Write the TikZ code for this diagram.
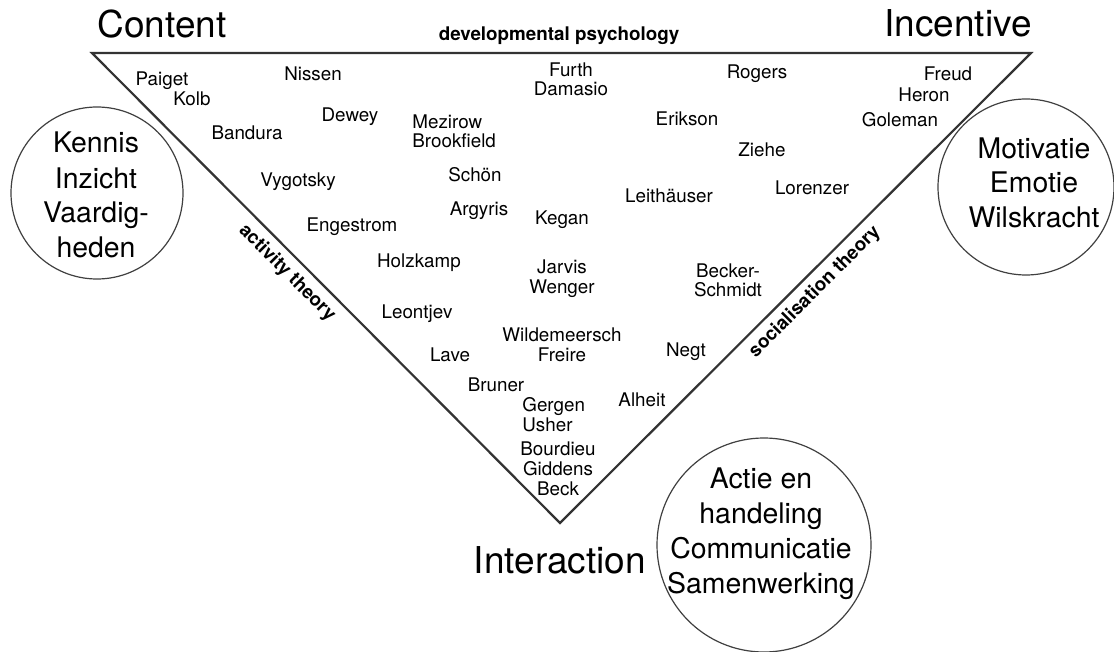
\documentclass[tikz,border=0pt]{standalone}
\usepackage{fontspec}
\setmainfont{TeX Gyre Heros}

\begin{document}
\begin{tikzpicture}[x=0.5pt,y=-0.5pt,
  person/.style={font=\fontsize{9.4}{9.8}\selectfont,inner sep=0pt,anchor=base,align=center},
  pole/.style={font=\fontsize{18.5}{20}\selectfont,inner sep=0pt,anchor=base},
  theory/.style={font=\fontsize{9.4}{10}\selectfont\bfseries,inner sep=0pt},
  ring/.style={draw=black!75,line width=0.6pt,circle,inner sep=0pt},
  ringtext/.style={font=\fontsize{14.2}{17.5}\selectfont,inner sep=0pt,anchor=base,align=center}]
  \useasboundingbox (0,0) rectangle (1114,652);

  \coordinate (tl) at (92,53);
  \coordinate (tr) at (1031,53);
  \coordinate (bt) at (560,523);
  \draw[line width=1.1pt,draw=black!80] (tl) -- (tr) -- (bt) -- cycle;

  \node[pole] (content) at (162,38) {Content};
  \node[pole] (incentive) at (958,37) {Incentive};
  \node[pole] (interaction) at (560,573) {Interaction};

  \node[theory,anchor=base] (devpsy) at (559,41) {developmental psychology};
  \node[theory,rotate=-45] (activity) at (287,273) {activity theory};
  \node[theory,rotate=45] (socialisation) at (815,292) {socialisation theory};

  \node[ring,minimum size=86pt] (knowledge) at (97,193) {};
  \node[ringtext] (knowledgetext) at (96,258) {Kennis\\Inzicht\\Vaardig-\\heden};
  \node[ring,minimum size=88pt] (motivation) at (1026,187) {};
  \node[ringtext] (motivationtext) at (1034,228) {Motivatie\\Emotie\\Wilskracht};
  \node[ring,minimum size=107pt] (action) at (764,545) {};
  \node[ringtext] (actiontext) at (761,593) {Actie en\\handeling\\Communicatie\\Samenwerking};

  \node[person] (paiget) at (162,86) {Paiget};
  \node[person] (kolb) at (192,106) {Kolb};
  \node[person] (nissen) at (313,81) {Nissen};
  \node[person] (dewey) at (350,122) {Dewey};
  \node[person] (bandura) at (247,140) {Bandura};
  \node[person] (vygotsky) at (298,187) {Vygotsky};
  \node[person] (engestrom) at (352,232) {Engestrom};
  \node[person] (holzkamp) at (419,268) {Holzkamp};
  \node[person] (leontjev) at (417,319) {Leontjev};
  \node[person] (lave) at (450,361) {Lave};
  \node[person] (bruner) at (496,392) {Bruner};
  \node[person,align=left,anchor=base west] (gergen) at (522,431) {Gergen\\Usher};
  \node[person] (bourdieu) at (558,495) {Bourdieu\\Giddens\\Beck};
  \node[person,align=left,anchor=base west] (mezirow) at (412,148) {Mezirow\\Brookfield};
  \node[person] (schoen) at (475,182) {Schön};
  \node[person] (argyris) at (479,216) {Argyris};
  \node[person] (furth) at (571,96) {Furth\\Damasio};
  \node[person] (kegan) at (562,225) {Kegan};
  \node[person] (jarvis) at (562,293) {Jarvis\\Wenger};
  \node[person] (wildemeersch) at (562,361) {Wildemeersch\\Freire};
  \node[person] (rogers) at (757,79) {Rogers};
  \node[person] (erikson) at (687,126) {Erikson};
  \node[person] (ziehe) at (762,157) {Ziehe};
  \node[person] (leithaeuser) at (669,203) {Leithäuser};
  \node[person] (lorenzer) at (812,195) {Lorenzer};
  \node[person] (becker) at (728,297) {Becker-\\Schmidt};
  \node[person] (negt) at (686,357) {Negt};
  \node[person] (alheit) at (642,406) {Alheit};
  \node[person] (freud) at (948,81) {Freud};
  \node[person] (heron) at (924,102) {Heron};
  \node[person] (goleman) at (900,127) {Goleman};
\end{tikzpicture}
\end{document}
